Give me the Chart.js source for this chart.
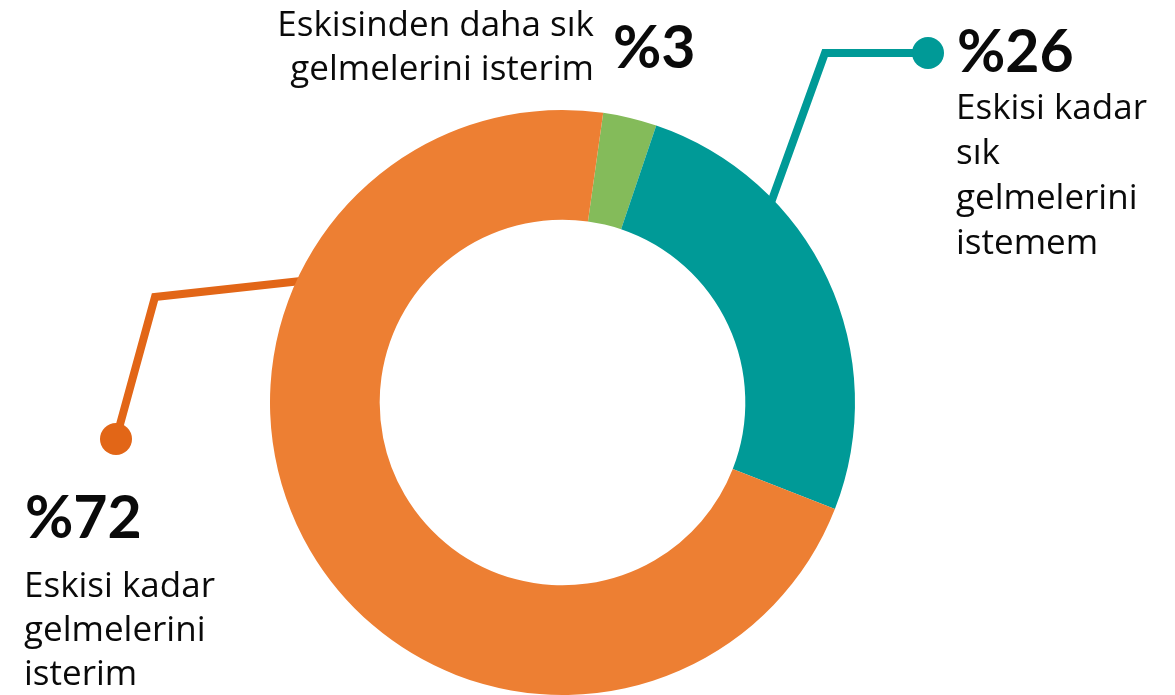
<!DOCTYPE html>
<html>
<head>
<meta charset="utf-8">
<script src="https://cdn.jsdelivr.net/npm/chart.js@4"></script>
<style>
  html, body { margin: 0; padding: 0; background: #ffffff; }
  #wrap { width: 1175px; height: 695px; position: relative; }
</style>
</head>
<body>
<div id="wrap"><canvas id="myChart" width="1175" height="695"></canvas></div>
<script>

// data, in drawing order (clockwise from the top)
const categories = ['Eskisinden daha sık gelmelerini isterim', 'Eskisi kadar sık gelmelerini istemem', 'Eskisi kadar gelmelerini isterim'];
const values = [3, 26, 72];
const valueLabels = ['%3', '%26', '%72'];
const colors = ['#84BB5A', '#009A97', '#ED7F33'];

const textFont = '"Open Sans", Lato, sans-serif';
const numFont = 'Lato, "Open Sans", sans-serif';


// callouts: connector lines + texts, drawn over the doughnut
const callouts = {
    id: 'callouts',

    beforeDatasetsDraw(chart){
        let ctx = chart.ctx;
        let meta = chart.getDatasetMeta(0);

        // connector: [segment index, position along segment, elbow, dot, colour]
        let lines = [
            [1, 0.306, [262.5, -349.5], [365.5, -349.5], '#009A97'],
            [2, 0.719, [-407.5, -105.5], [-446.5, 36.5], '#E26617'],
        ];

        ctx.save();
        for (let l of lines) {
            let arc = meta.data[l[0]];
            let a = arc.startAngle + l[1] * (arc.endAngle - arc.startAngle);
            let r = arc.outerRadius - 12;
            let x0 = arc.x + Math.cos(a) * r;
            let y0 = arc.y + Math.sin(a) * r;

            ctx.strokeStyle = l[4];
            ctx.fillStyle = l[4];
            ctx.lineWidth = 8;
            ctx.lineJoin = 'miter';
            ctx.beginPath();
            ctx.moveTo(x0, y0);
            ctx.lineTo(arc.x + l[2][0], arc.y + l[2][1]);
            ctx.lineTo(arc.x + l[3][0], arc.y + l[3][1]);
            ctx.stroke();

            ctx.beginPath();
            ctx.arc(arc.x + l[3][0], arc.y + l[3][1], 16, 0, Math.PI * 2);
            ctx.fill();
        }
        ctx.restore();
    },

    afterDraw(chart){
        let ctx = chart.ctx;
        ctx.save();
        ctx.fillStyle = '#0a0a0a';
        ctx.textBaseline = 'alphabetic';

        // top label (3%)
        ctx.font = 'bold 59px ' + numFont;
        ctx.textAlign = 'left';
        ctx.fillText(valueLabels[0], 613, 68);
        ctx.font = '35px ' + textFont;
        ctx.textAlign = 'right';
        ctx.fillText('Eskisinden daha sık', 594, 36);
        ctx.fillText('gelmelerini isterim', 594, 80);

        // right label (26%)
        ctx.textAlign = 'left';
        ctx.font = 'bold 59px ' + numFont;
        ctx.fillText(valueLabels[1], 957, 72);
        ctx.font = '35px ' + textFont;
        let right = ['Eskisi kadar', 'sık', 'gelmelerini', 'istemem'];
        right.forEach((t, i) => ctx.fillText(t, 956, 119 + i * 45));

        // left label (72%)
        ctx.font = 'bold 59px ' + numFont;
        ctx.fillText(valueLabels[2], 25, 538);
        ctx.font = '35px ' + textFont;
        let left = ['Eskisi kadar', 'gelmelerini', 'isterim'];
        left.forEach((t, i) => ctx.fillText(t, 24, 597 + i * 44));

        ctx.restore();
    }
}


let config = {
    type: 'doughnut',
    data: {
        labels: categories,
        datasets: [{
            data: values,
            backgroundColor: colors,
            borderWidth: 0,
            hoverOffset: 0
        }]
    },
    options: {
        responsive: false,
        animation: false,
        rotation: 8,
        cutout: '62.5%',
        layout: {
            padding: { left: 270, right: 320, top: 110, bottom: 0 }
        },
        plugins: {
            legend: { display: false },
            tooltip: { enabled: false }
        }
    },
    plugins: [callouts]
}

new Chart(document.getElementById('myChart'), config);

</script>
</body>
</html>
